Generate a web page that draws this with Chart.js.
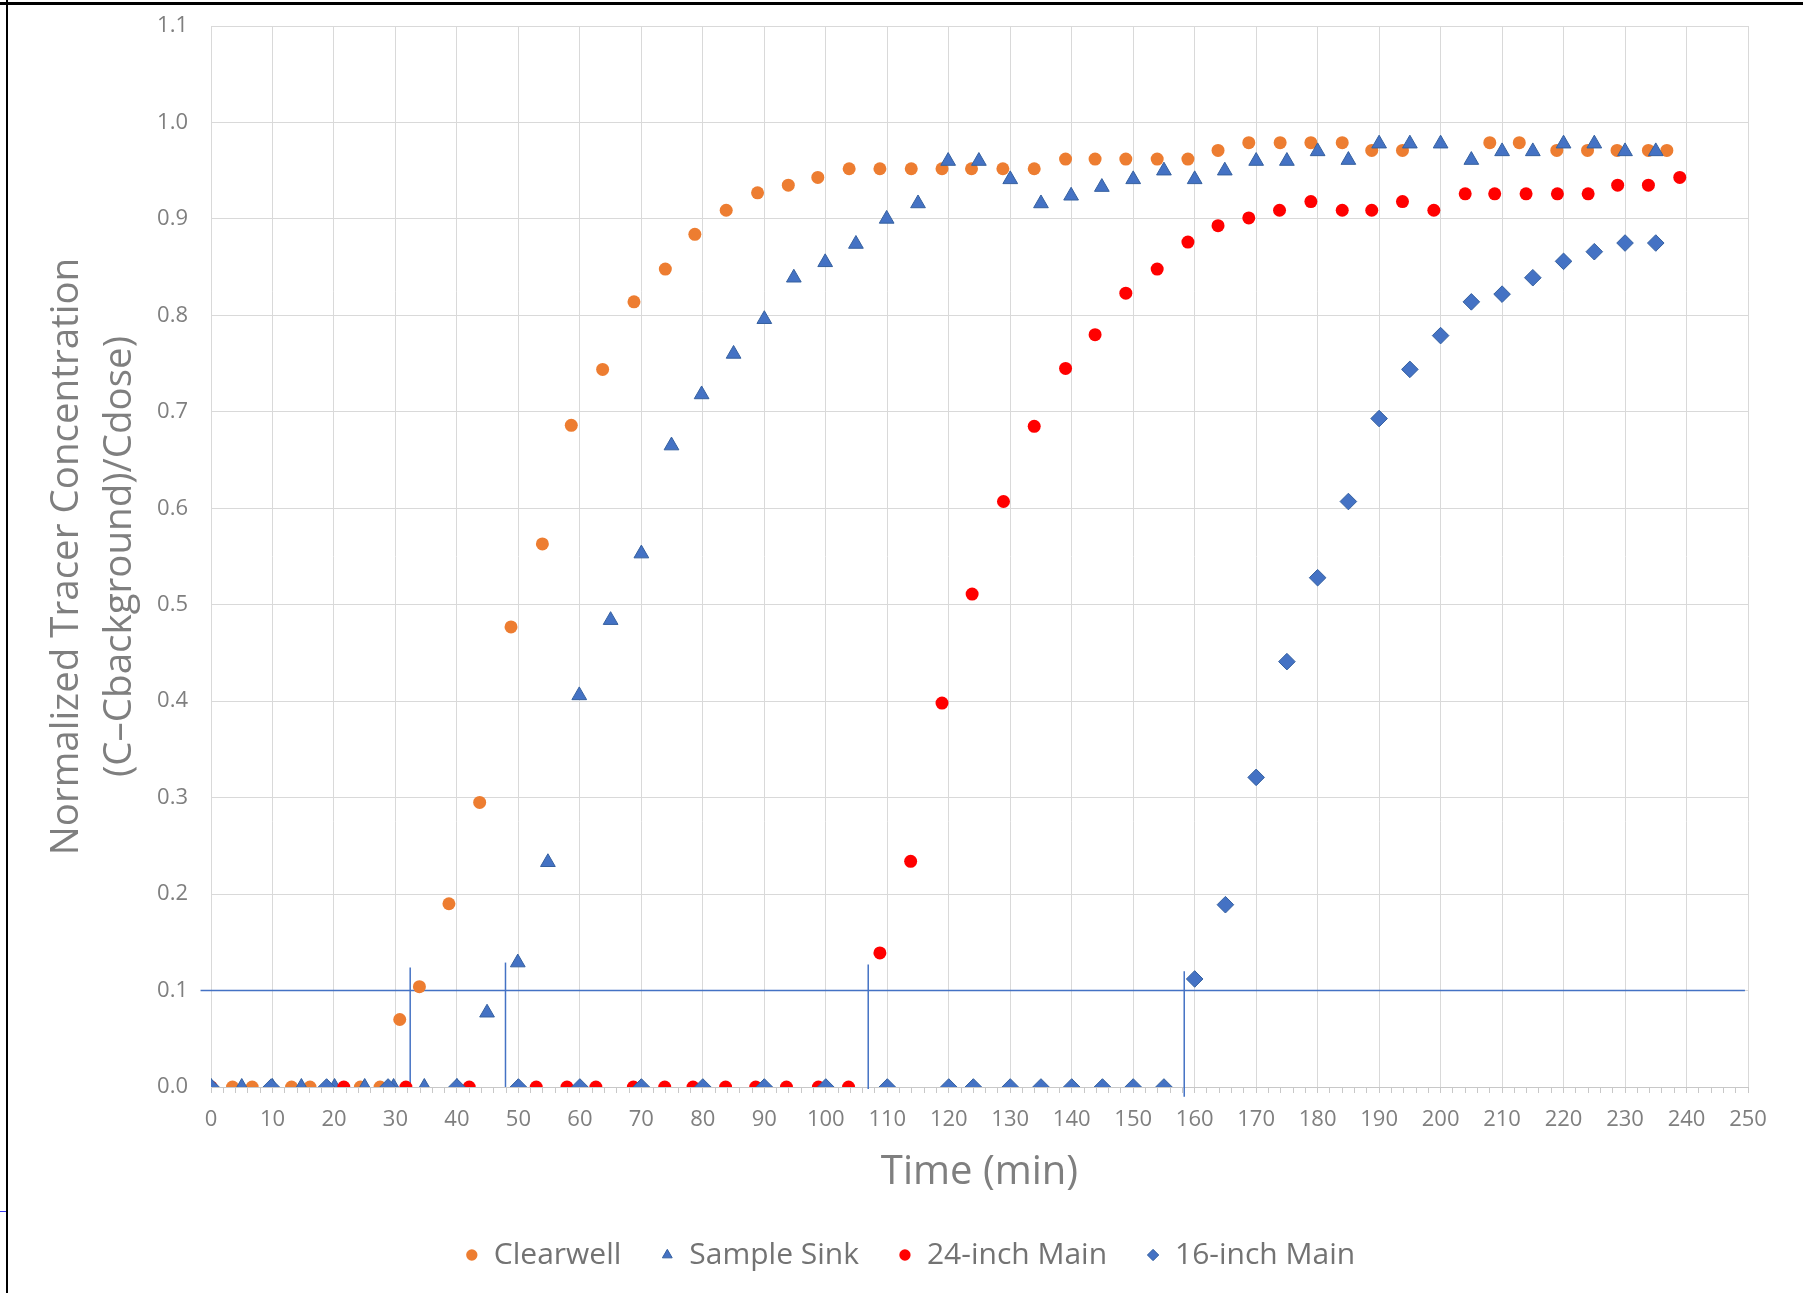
<!DOCTYPE html>
<html>
<head>
<meta charset="utf-8">
<script src="https://cdn.jsdelivr.net/npm/chart.js@4.4.1/dist/chart.umd.min.js"></script>
<style>
  html, body { margin: 0; padding: 0; background: #fff; }
  #wrap { position: relative; width: 1803px; height: 1293px; overflow: hidden; }
  #frame_top { position: absolute; left: 0; top: 2px; width: 1803px; height: 3px; background: #000; }
  #frame_left { position: absolute; left: 6px; top: 0; width: 2px; height: 1293px; background: #000; }
  #frame_mark { position: absolute; left: 0; top: 1211px; width: 6px; height: 1px; background: #3b3bf0; }
</style>
</head>
<body>
<div id="wrap">
  <canvas id="tracer_chart" width="1820" height="1293"></canvas>
  <div id="frame_top"></div>
  <div id="frame_left"></div>
  <div id="frame_mark"></div>
</div>
<script>
// values, time in minutes
const clearwellTime = [0, 3.5, 6.7, 13.1, 16.1, 24.3, 27.5, 30.7, 33.9, 38.7, 43.7, 48.8, 53.9, 58.6, 63.7, 68.8, 73.9, 78.7, 83.8, 88.9,
    93.9, 98.7, 103.8, 108.8, 113.9, 118.9, 123.7, 128.8, 133.9, 139.0, 143.8, 148.8, 153.9, 158.9, 163.8, 168.8, 173.9, 178.9, 184.0,
    188.8, 193.8, 208.0, 212.8, 218.9, 223.9, 228.7, 233.8, 236.8];
const clearwellConc = [0, 0, 0, 0, 0, 0, 0, 0.070, 0.104, 0.190, 0.295, 0.477, 0.563, 0.686, 0.744, 0.814, 0.848, 0.884, 0.909, 0.927,
    0.935, 0.943, 0.952, 0.952, 0.952, 0.952, 0.952, 0.952, 0.952, 0.962, 0.962, 0.962, 0.962, 0.962, 0.971, 0.979, 0.979, 0.979, 0.979,
    0.971, 0.971, 0.979, 0.979, 0.971, 0.971, 0.971, 0.971, 0.971];

const sinkTime = [0, 5, 10, 14.7, 20.1, 25, 29.7, 34.7, 40, 44.9, 49.9, 54.8, 59.9, 65, 70, 74.9, 79.8, 85, 90, 94.8, 99.9, 104.9,
    109.9, 115, 119.9, 124.9, 130, 135, 139.9, 144.9, 150, 155, 160, 164.9, 170, 175, 180, 185, 190, 195, 200, 205, 210, 215, 220,
    225, 230, 235];
const sinkConc = [0, 0, 0, 0, 0, 0, 0, 0, 0, 0.077, 0.129, 0.233, 0.406, 0.484, 0.553, 0.665, 0.718, 0.760, 0.796, 0.839, 0.855, 0.874,
    0.900, 0.916, 0.960, 0.960, 0.941, 0.916, 0.924, 0.933, 0.941, 0.950, 0.941, 0.950, 0.960, 0.960, 0.970, 0.961, 0.978, 0.978, 0.978,
    0.961, 0.970, 0.970, 0.978, 0.978, 0.970, 0.970];

const main24Time = [0, 21.6, 31.7, 42.0, 52.9, 57.9, 62.6, 68.7, 73.8, 78.4, 83.7, 88.6, 93.6, 98.8, 103.7, 108.8, 113.8, 118.9, 123.8,
    128.9, 133.9, 139.0, 143.8, 148.8, 153.9, 158.9, 163.8, 168.8, 173.8, 178.9, 184.0, 188.8, 193.8, 198.9, 204.0, 208.8, 213.9, 219.0,
    224.0, 228.8, 233.8, 238.9];
const main24Conc = [0, 0, 0, 0, 0, 0, 0, 0, 0, 0, 0, 0, 0, 0, 0, 0.139, 0.234, 0.398, 0.511, 0.607, 0.685, 0.745, 0.780, 0.823, 0.848,
    0.876, 0.893, 0.901, 0.909, 0.918, 0.909, 0.909, 0.918, 0.909, 0.926, 0.926, 0.926, 0.926, 0.926, 0.935, 0.935, 0.943];

const main16Time = [0, 9.8, 18.8, 28.8, 40, 50, 60, 70, 80, 90, 100, 110, 120, 124, 130, 135, 140, 145, 150, 155, 160, 165, 170, 175,
    180, 185, 190, 195, 200, 205, 210, 215, 220, 225, 230, 235];
const main16Conc = [0, 0, 0, 0, 0, 0, 0, 0, 0, 0, 0, 0, 0, 0, 0, 0, 0, 0, 0, 0, 0.112, 0.189, 0.321, 0.441, 0.528, 0.607, 0.693, 0.744,
    0.779, 0.814, 0.822, 0.839, 0.856, 0.866, 0.875, 0.875];

// 0.1 breakthrough line and the arrival markers drawn on it
const thresholdLevel = 0.1;
const thresholdSpan = [-1.7, 249.5];
const crossingTime = [32.4, 47.9, 106.9, 158.3];
const crossingTop = [0.124, 0.129, 0.127, 0.120];
const crossingBottom = [0, 0, -0.002, -0.01];

const seriesNames = ["Clearwell", "Sample Sink", "24-inch Main", "16-inch Main"];

function toPoints(xs, ys) {
    return xs.map((x, i) => ({x: x, y: ys[i]}));
}

const blue = '#4472C4';
const textGray = '#7f7f7f';
Chart.defaults.font.family = "'Open Sans', sans-serif";

let datasets = [
    {label: seriesNames[0], data: toPoints(clearwellTime, clearwellConc), pointStyle: 'circle', pointRadius: 6.5,
        backgroundColor: '#ED7D31', borderColor: '#ED7D31', borderWidth: 0, order: 4},
    {label: seriesNames[1], data: toPoints(sinkTime, sinkConc), pointStyle: 'triangle', pointRadius: 8.5,
        backgroundColor: blue, borderColor: '#35609f', borderWidth: 1, order: 3},
    {label: seriesNames[2], data: toPoints(main24Time, main24Conc), pointStyle: 'circle', pointRadius: 6.5,
        backgroundColor: '#FF0000', borderColor: '#FF0000', borderWidth: 0, order: 2},
    {label: seriesNames[3], data: toPoints(main16Time, main16Conc), pointStyle: 'rectRot', pointRadius: 8.3,
        backgroundColor: blue, borderColor: '#35609f', borderWidth: 1, order: 1},
];

let guideLines = [thresholdSpan.map(x => ({x: x, y: thresholdLevel}))];
crossingTime.forEach((t, i) => {
    guideLines.push([{x: t, y: crossingBottom[i]}, {x: t, y: crossingTop[i]}]);
});
for (const line of guideLines) {
    datasets.push({label: '', data: line, showLine: true, pointRadius: 0, borderColor: blue,
        borderWidth: 1.5, clip: false, order: 5});
}

const chart = document.getElementById("tracer_chart");
new Chart(chart, {
    type: 'scatter',
    data: {datasets: datasets},
    options: {
        responsive: false,
        animation: false,
        devicePixelRatio: 1,
        layout: {padding: {top: 26, left: 0, right: 0, bottom: 13}},
        scales: {
            x: {
                type: 'linear',
                min: 0,
                max: 250,
                afterFit: scale => { scale.height = 114; },
                ticks: {
                    stepSize: 2,
                    autoSkip: false,
                    maxRotation: 0,
                    padding: 13.5,
                    color: textGray,
                    font: {size: 22},
                    callback: v => (Math.abs(v % 10) < 1e-6 ? v : '')
                },
                grid: {
                    color: ctx => (ctx.tick && Math.abs(ctx.tick.value % 10) < 1e-6 ? '#d9d9d9' : 'rgba(0,0,0,0)'),
                    tickColor: '#c8c8c8',
                    tickLength: 6
                },
                border: {color: '#c8c8c8'},
                title: {display: true, text: 'Time (min)', color: textGray, font: {size: 40}, padding: {top: 0, bottom: 4.5}}
            },
            y: {
                min: 0,
                max: 1.1,
                afterFit: scale => { scale.width = 211; },
                ticks: {stepSize: 0.1, padding: 0, color: textGray, font: {size: 22}, callback: v => v.toFixed(1)},
                grid: {color: '#d9d9d9', drawTicks: true, tickLength: 23, tickColor: 'rgba(0,0,0,0)'},
                border: {color: '#d9d9d9'},
                title: {
                    display: true,
                    text: ['Normalized Tracer Concentration', '(C–Cbackground)/Cdose)'],
                    color: textGray,
                    font: {size: 38.5, lineHeight: 1.36},
                    padding: {top: 41, bottom: 0}
                }
            },
            y2: {
                position: 'right',
                display: true,
                afterFit: scale => { scale.width = 72; },
                ticks: {display: false},
                grid: {display: false, drawTicks: false},
                border: {display: false}
            }
        },
        plugins: {
            tooltip: {enabled: false},
            legend: {
                position: 'bottom',
                labels: {
                    usePointStyle: true,
                    boxWidth: 14,
                    boxHeight: 8,
                    padding: 39,
                    color: '#737373',
                    font: {size: 30},
                    filter: item => item.datasetIndex < 4,
                    sort: (a, b) => a.datasetIndex - b.datasetIndex
                }
            }
        }
    }
});
</script>
</body>
</html>
